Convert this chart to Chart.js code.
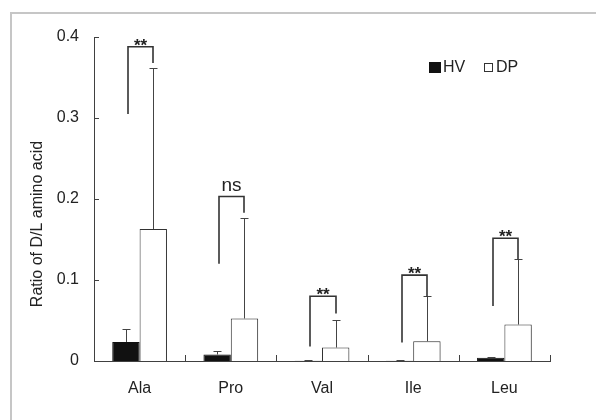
<!DOCTYPE html>
<html>
<head>
<meta charset="utf-8">
<title>D/L amino acid ratio</title>
<script src="https://cdn.jsdelivr.net/npm/chart.js@4.4.1/dist/chart.umd.min.js"></script>
<style>
    html, body { margin: 0; padding: 0; background: #fff; overflow: hidden; }
    #wrap { position: relative; width: 596px; height: 420px; }
    #frame {
        position: absolute; left: 10px; top: 12px; width: 600px; height: 420px;
        border-top: 2px solid #c6c6c6; border-left: 2px solid #c6c6c6;
    }
    #ratioChart { position: absolute; left: 0; top: 0; }
</style>
</head>
<body>
<div id="wrap">
    <div id="frame"></div>
    <canvas id="ratioChart" width="596" height="420"></canvas>
</div>
<script>
// Values
const aminoAcids = [ 'Ala', 'Pro', 'Val', 'Ile', 'Leu' ];
const hvValues = [ 0.0235, 0.008, 0.0003, 0.0003, 0.004 ];
const hvErrors = [ 0.0155, 0.0045, 0.0005, 0.0005, 0.001 ];
const dpValues = [ 0.163, 0.0525, 0.0166, 0.0244, 0.045 ];
const dpErrors = [ 0.199, 0.1235, 0.0344, 0.0553, 0.0805 ];
const yTicks = [ 0, 0.1, 0.2, 0.3, 0.4 ];

// Significance brackets: left leg start, bracket top, right leg start
const sigLabels = [ '**', 'ns', '**', '**', '**' ];
const bracketLeftFrom = [ 0.305, 0.12, 0.018, 0.0228, 0.068 ];
const bracketTop = [ 0.388, 0.203, 0.080, 0.106, 0.1515 ];
const bracketRightFrom = [ 0.368, 0.183, 0.0587, 0.0797, 0.1255 ];

const FONT = '"Liberation Sans", Arial, sans-serif';
const INK = '#333333';

let extras = {
    id: 'extras',
    beforeDatasetsDraw ( chart )
    {
        let ctx = chart.ctx;
        ctx.save();
        ctx.shadowColor = 'rgba(0,0,0,0.18)';
        ctx.shadowBlur = 3;
        ctx.shadowOffsetX = 2;
        ctx.shadowOffsetY = 1;
    },
    afterDatasetsDraw ( chart )
    {
        let ctx = chart.ctx;
        ctx.restore();
        let xs = chart.scales.x, ys = chart.scales.y, area = chart.chartArea;

        // error bars (upper only)
        ctx.save();
        ctx.strokeStyle = '#444';
        ctx.lineWidth = 1;
        [ [ hvValues, hvErrors ], [ dpValues, dpErrors ] ].forEach( function ( pair, d )
        {
            let meta = chart.getDatasetMeta( d );
            pair[ 0 ].forEach( function ( v, i )
            {
                let px = Math.round( meta.data[ i ].x ) + 0.5;
                let y0 = ys.getPixelForValue( v );
                let y1 = Math.round( ys.getPixelForValue( v + pair[ 1 ][ i ] ) ) + 0.5;
                ctx.beginPath();
                ctx.moveTo( px, y0 );
                ctx.lineTo( px, y1 );
                ctx.moveTo( px - 4, y1 );
                ctx.lineTo( px + 4, y1 );
                ctx.stroke();
            } );
        } );

        // inward tick marks
        ctx.strokeStyle = '#404040';
        ctx.beginPath();
        yTicks.forEach( function ( t )
        {
            if ( t === 0 ) return;
            let py = Math.round( ys.getPixelForValue( t ) ) + 0.5;
            ctx.moveTo( area.left, py );
            ctx.lineTo( area.left + 5, py );
        } );
        for ( let i = 1; i <= aminoAcids.length; i++ )
        {
            let px = Math.round( xs.getPixelForValue( i - 0.5 ) ) + 0.5;
            ctx.moveTo( px, area.bottom );
            ctx.lineTo( px, area.bottom - 6 );
        }
        ctx.stroke();

        // significance brackets
        let hvMeta = chart.getDatasetMeta( 0 ), dpMeta = chart.getDatasetMeta( 1 );
        ctx.strokeStyle = INK;
        ctx.lineWidth = 1.6;
        ctx.fillStyle = '#222';
        ctx.textAlign = 'center';
        ctx.textBaseline = 'alphabetic';
        sigLabels.forEach( function ( lab, i )
        {
            let xl = Math.round( hvMeta.data[ i ].x ) + 2;
            let xr = Math.round( dpMeta.data[ i ].x );
            let yt = ys.getPixelForValue( bracketTop[ i ] );
            ctx.beginPath();
            ctx.moveTo( xl, ys.getPixelForValue( bracketLeftFrom[ i ] ) );
            ctx.lineTo( xl, yt );
            ctx.lineTo( xr, yt );
            ctx.lineTo( xr, ys.getPixelForValue( bracketRightFrom[ i ] ) );
            ctx.stroke();
            if ( lab === 'ns' )
            {
                ctx.font = '19px ' + FONT;
                ctx.fillText( lab, ( xl + xr ) / 2, yt - 6 );
            } else
            {
                ctx.font = 'bold 17px ' + FONT;
                ctx.fillText( lab, ( xl + xr ) / 2, yt + 4 );
            }
        } );

        // legend
        ctx.lineWidth = 1;
        ctx.font = '16px ' + FONT;
        ctx.textAlign = 'left';
        ctx.textBaseline = 'middle';
        ctx.fillStyle = '#111';
        ctx.fillRect( 429, 62, 12, 11 );
        ctx.fillStyle = '#222';
        ctx.fillText( chart.data.datasets[ 0 ].label, 443, 68 );
        ctx.fillStyle = '#fff';
        ctx.fillRect( 484, 63, 9, 9 );
        ctx.strokeStyle = INK;
        ctx.strokeRect( 484.5, 63.5, 8, 8 );
        ctx.fillStyle = '#222';
        ctx.fillText( chart.data.datasets[ 1 ].label, 496, 68 );

        // y axis title (sits below the axis centre in the original)
        ctx.translate( 38, 224 );
        ctx.rotate( -Math.PI / 2 );
        ctx.textAlign = 'center';
        ctx.font = '16px ' + FONT;
        ctx.fillStyle = '#222';
        ctx.fillText( 'Ratio of D/L amino acid', 0, 0 );
        ctx.restore();
    }
};

let ctx = document.getElementById( 'ratioChart' ).getContext( '2d' );
let chart = new Chart( ctx, {
    type: 'bar',
    data: {
        labels: aminoAcids,
        datasets: [ {
            label: 'HV',
            data: hvValues,
            backgroundColor: '#111111',
            borderColor: '#111111',
            borderWidth: 1
        }, {
            label: 'DP',
            data: dpValues,
            backgroundColor: '#ffffff',
            borderColor: INK,
            borderWidth: 1
        } ]
    },
    options: {
        responsive: false,
        animation: false,
        devicePixelRatio: 1,
        layout: { padding: { left: 0, top: 37, right: 46, bottom: 0 } },
        datasets: { bar: { categoryPercentage: 0.6, barPercentage: 1.0 } },
        plugins: {
            legend: { display: false },
            tooltip: { enabled: false }
        },
        scales: {
            x: {
                grid: { display: false, drawTicks: false },
                border: { display: true, color: '#404040', width: 1 },
                ticks: { color: '#222', padding: 18, font: { family: FONT, size: 16 } },
                afterFit: function ( s ) { s.height = 59; }
            },
            y: {
                min: 0,
                max: 0.4,
                grid: { display: false, drawTicks: false },
                border: { display: true, color: '#404040', width: 1 },
                ticks: { stepSize: 0.1, color: '#222', padding: 15, font: { family: FONT, size: 16 } },
                afterFit: function ( s ) { s.width = 94; }
            }
        }
    },
    plugins: [ extras ]
} );
</script>
</body>
</html>
